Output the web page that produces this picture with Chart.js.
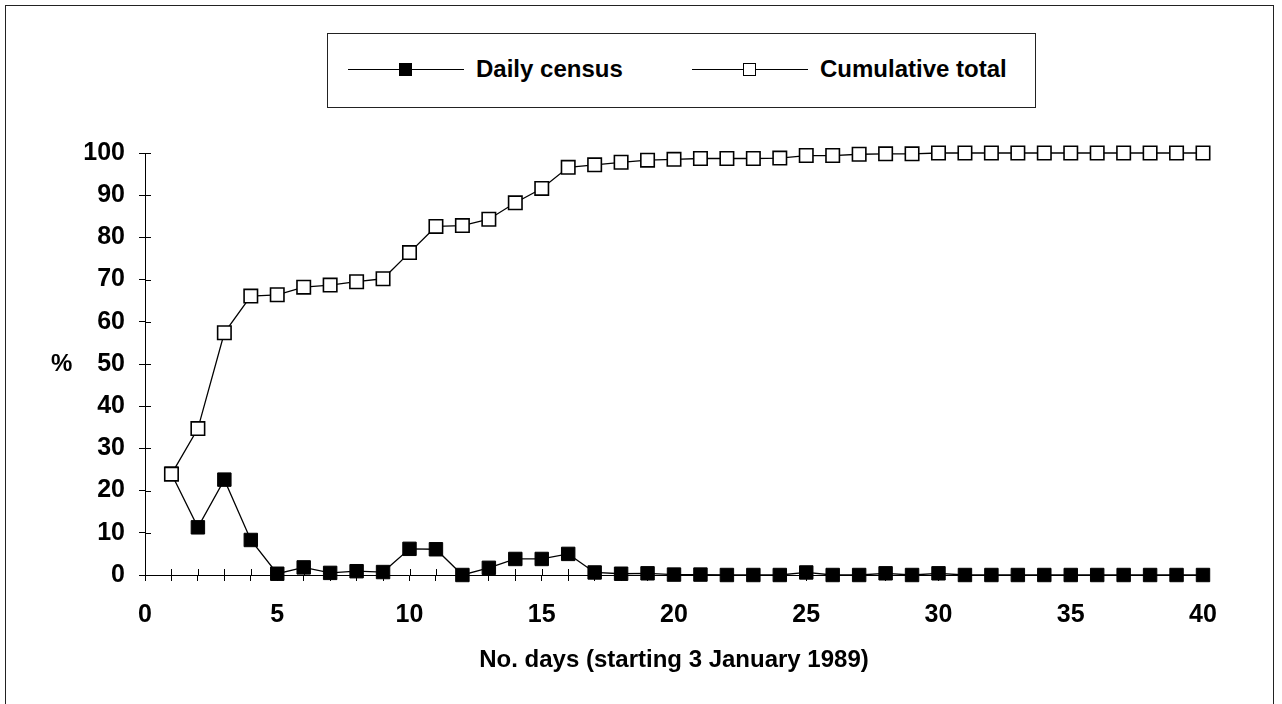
<!DOCTYPE html>
<html>
  <head>
    <title>Daily census and cumulative total</title>
    <script src="https://cdn.jsdelivr.net/npm/chart.js"></script>
    <style>
      body {
        margin: 0;
        background: #fff;
        font-family: "Liberation Sans", Arial, sans-serif;
      }
      #wrap {
        position: relative;
        width: 1282px;
        height: 704px;
        overflow: hidden;
      }
      #frame {
        position: absolute;
        left: 5px;
        top: 5px;
        width: 1267px;
        height: 720px;
        border: 1px solid #222;
      }
      canvas {
        position: absolute;
        left: 0;
        top: 0;
      }
      #legend {
        position: absolute;
        left: 327px;
        top: 33px;
        width: 707px;
        height: 73px;
        border: 1px solid #222;
        background: #fff;
      }
      .item {
        position: absolute;
        top: 0;
        height: 73px;
        font-weight: bold;
        font-size: 24px;
      }
      .line {
        position: absolute;
        top: 35px;
        width: 116px;
        height: 1px;
        background: #000;
      }
      .mark {
        position: absolute;
        top: 29px;
        left: 51px;
        width: 11px;
        height: 11px;
        border: 1px solid #000;
      }
      .label {
        position: absolute;
        left: 128px;
        top: 21px;
        white-space: nowrap;
      }
      #ytitle {
        position: absolute;
        left: 51px;
        top: 349px;
        font-weight: bold;
        font-size: 24px;
      }
    </style>
  </head>
  <body>
    <div id="wrap">
      <div id="frame"></div>
      <canvas id="chart" width="1282" height="704"></canvas>
      <div id="legend">
        <div class="item" style="left:20px">
          <div class="line"></div>
          <div class="mark" style="background:#000"></div>
          <div class="label">Daily census</div>
        </div>
        <div class="item" style="left:364px">
          <div class="line"></div>
          <div class="mark" style="background:#fff"></div>
          <div class="label">Cumulative total</div>
        </div>
      </div>
      <div id="ytitle">%</div>
    </div>

    <script>
      const days = [1,2,3,4,5,6,7,8,9,10,11,12,13,14,15,16,17,18,19,20,
                    21,22,23,24,25,26,27,28,29,30,31,32,33,34,35,36,37,38,39,40];
      const daily = [24,11.3,22.6,8.3,0.3,1.8,0.5,0.9,0.7,6.2,6.1,0,1.7,3.8,3.8,5,0.6,0.3,0.4,0.1,
                     0.1,0,0,0,0.6,0,0,0.4,0,0.4,0,0,0,0,0,0,0,0,0,0];
      const cumulative = [23.9,34.7,57.4,66.1,66.4,68.2,68.7,69.5,70.2,76.4,82.6,82.8,84.3,88.2,91.6,96.6,97.2,97.8,98.3,98.5,
                          98.7,98.7,98.7,98.8,99.4,99.4,99.7,99.8,99.8,100,100,100,100,100,100,100,100,100,100,100];
      const xTicksLabelled = [0,5,10,15,20,25,30,35,40];

      const pts = (ys) => days.map((d, i) => ({ x: d, y: ys[i] }));

      // tick marks that cross the axis line (inner half)
      const crossTicks = {
        id: "crossTicks",
        afterDraw(chart) {
          const { ctx, scales: { x, y } } = chart;
          ctx.save();
          ctx.strokeStyle = "#000";
          ctx.lineWidth = 1;
          ctx.beginPath();
          x.ticks.forEach(t => {
            const px = Math.round(x.getPixelForValue(t.value)) + 0.5;
            ctx.moveTo(px, y.bottom);
            ctx.lineTo(px, y.bottom - 6);
          });
          y.ticks.forEach(t => {
            const py = Math.round(y.getPixelForValue(t.value)) + 0.5;
            ctx.moveTo(x.left, py);
            ctx.lineTo(x.left + 6, py);
          });
          ctx.stroke();
          ctx.restore();
        }
      };

      new Chart(document.getElementById("chart"), {
        type: "line",
        data: {
          datasets: [
            {
              label: "Daily census",
              data: pts(daily),
              borderColor: "#000",
              borderWidth: 1.3,
              pointStyle: "rect",
              pointRadius: 9.5,
              pointBackgroundColor: "#000",
              pointBorderColor: "#000",
              pointBorderWidth: 1,
              clip: false,
              order: 1
            },
            {
              label: "Cumulative total",
              data: pts(cumulative),
              borderColor: "#000",
              borderWidth: 1.3,
              pointStyle: "rect",
              pointRadius: 9.5,
              pointBackgroundColor: "#fff",
              pointBorderColor: "#000",
              pointBorderWidth: 1.6,
              clip: false,
              order: 0
            }
          ]
        },
        options: {
          responsive: false,
          animation: false,
          events: [],
          layout: { padding: { left: 0, top: 153, right: 79, bottom: 0 } },
          plugins: { legend: { display: false }, tooltip: { enabled: false } },
          scales: {
            x: {
              type: "linear",
              min: 0,
              max: 40,
              afterFit: (s) => { s.height = 129; },
              border: { display: true, color: "#000", width: 1 },
              grid: { drawOnChartArea: false, drawTicks: true, tickLength: 6, color: "#000" },
              ticks: {
                stepSize: 1,
                autoSkip: false,
                maxRotation: 0,
                padding: 19,
                color: "#000",
                font: { family: "Liberation Sans", size: 25, weight: "bold" },
                callback: (v) => xTicksLabelled.includes(v) ? String(v) : ""
              },
              title: {
                display: true,
                text: "No. days (starting 3 January 1989)",
                color: "#000",
                font: { family: "Liberation Sans", size: 24, weight: "bold" },
                padding: { top: 0, bottom: 29 }
              }
            },
            y: {
              min: 0,
              max: 100,
              afterFit: (s) => { s.width = 145; },
              border: { display: true, color: "#000", width: 1 },
              grid: { drawOnChartArea: false, drawTicks: true, tickLength: 6, color: "#000" },
              ticks: {
                stepSize: 10,
                padding: 14,
                color: "#000",
                font: { family: "Liberation Sans", size: 25, weight: "bold" }
              }
            }
          }
        },
        plugins: [crossTicks]
      });
    </script>
  </body>
</html>
